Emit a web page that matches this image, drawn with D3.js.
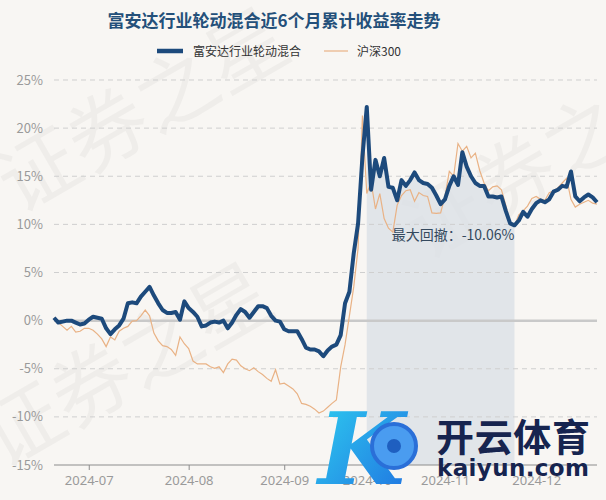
<!DOCTYPE html>
<html>
<head>
<meta charset="utf-8">
<script src="https://cdn.jsdelivr.net/npm/d3@7"></script>
<style>
  body { margin: 0; background: #f8f6f3; }
  svg { display: block; font-family: "Noto Sans CJK SC", "Noto Sans", sans-serif; }
</style>
</head>
<body>
<svg id="chart"></svg>
<script>
// cumulative return (%) per trading day, 2024-06-20 .. 2024-12-20
var fundName = '富安达行业轮动混合';
var benchName = '沪深300';
var fundValues = [
  0.3, -0.2, -0.1, 0, 0, -0.2, -0.4, -0.3, 0.1, 0.4,
  0.3, 0.2, -0.8, -1.4, -0.9, -0.5, 0.2, 1.8, 1.9, 1.8,
  2.5, 3.0, 3.5, 2.6, 1.8, 1.1, 0.8, 0.8, 0.9, 0.1,
  2.0, 1.3, 0.9, 0.4, -0.6, -0.5, -0.2, -0.1, -0.2, 0,
  -0.8, -0.2, 0.6, 1.2, 0.9, 0.3, 0.9, 1.5, 1.5, 1.3,
  0.5, 0.0, -0.1, -0.9, -1.1, -1.1, -1.1, -1.9, -2.8, -3.0,
  -3.0, -3.2, -3.7, -3.1, -2.7, -2.5, -1.5, 1.8, 3.0, 7.0,
  10.1, 17.0, 22.2, 13.6, 16.7, 15.0, 16.9, 13.9, 13.8, 12.5,
  14.6, 14.0, 14.6, 15.4, 14.6, 14.3, 14.2, 13.8, 13.0, 12.1,
  12.6, 14.0, 15.0, 14.1, 17.5, 16.0, 15.0, 14.3, 14.0, 14.0,
  12.9, 12.9, 12.8, 12.9, 11.4, 10.1, 9.9, 10.4, 11.3, 10.8,
  11.6, 12.2, 12.5, 12.3, 12.6, 13.4, 13.6, 14.0, 13.9, 15.5,
  12.9, 12.4, 12.8, 13.1, 12.8, 12.3
];
var benchValues = [
  0.3, -0.2, -0.6, -1.0, -0.6, -1.2, -1.1, -0.8, -0.8, -1.0,
  -1.4, -1.9, -2.7, -1.7, -2.0, -1.1, -0.8, -0.6, -0.05, 0,
  0.5, 1.1, 0.5, -1.3, -2.1, -2.6, -2.7, -3.0, -3.6, -1.7,
  -2.4, -2.9, -4.2, -4.5, -4.5, -4.5, -4.8, -4.95, -4.8, -5.4,
  -4.5, -4.0, -4.1, -4.7, -5.0, -5.2, -4.9, -5.3, -5.6, -6.0,
  -6.3, -5.1, -6.6, -6.5, -6.8, -7.1, -7.6, -8.6, -8.7, -8.9,
  -9.2, -9.6, -9.4, -9.0, -8.6, -8.25, -4.8, -2.5, 0.5, 3.5,
  7.5, 21.3, 13.2, 14.4, 11.6, 13.2, 10.6, 9.6, 9.2, 12.0,
  13.0, 13.5, 13.6, 12.4, 13.3, 13.0, 12.9, 11.2, 11.15, 11.2,
  12.9, 15.5, 15.0, 18.4, 17.6, 18.1, 16.9, 17.4, 15.6, 14.3,
  13.5, 13.9, 14.0, 13.6, 12.0, 10.1, 9.85, 11.0, 11.4, 11.9,
  12.7, 12.9, 12.6, 12.5, 13.3, 13.5, 13.8, 14.3, 14.8, 12.6,
  11.8, 12.1, 12.3, 12.5, 12.2, 12.1
];
var monthLabels = ['2024-07', '2024-08', '2024-09', '2024-10', '2024-11', '2024-12'];
var monthIndex = [8, 31, 53, 72, 90, 111];   // first trading day of each month
var yTicks = [25, 20, 15, 10, 5, 0, -5, -10, -15];
var drawdownLabel = '最大回撤：-10.06%';

var width = 606, height = 500;
var svg = d3.select('#chart').attr('width', width).attr('height', height);

var x = d3.scaleLinear().domain([0, fundValues.length - 1]).range([54, 597]);
var y = d3.scaleLinear().domain([-15, 25]).range([465, 80]);

// background
svg.append('rect').attr('width', width).attr('height', height).attr('fill', '#f8f6f3');

// watermark, clipped to the page
svg.append('clipPath').attr('id', 'page')
  .append('rect').attr('width', width).attr('height', height);
var wm = svg.append('g').attr('clip-path', 'url(#page)')
  .attr('fill', '#000').attr('fill-opacity', 0.035)
  .attr('font-size', 80);
[[18, 215], [2, 470], [425, 262]].forEach(function (p) {
  wm.append('text')
    .attr('transform', 'translate(' + p[0] + ',' + p[1] + ') rotate(-30)')
    .text('证券之星');
});

// peak -> trough drawdown area
var peakI = d3.maxIndex(fundValues);
var troughI = peakI + d3.minIndex(fundValues.slice(peakI));
var ddArea = d3.area()
  .x(function (d, i) { return x(peakI + i) })
  .y0(y(-15))
  .y1(function (d) { return y(d) });
svg.append('path')
  .datum(fundValues.slice(peakI, troughI + 1))
  .attr('d', ddArea)
  .attr('fill', '#d9dfe5')
  .attr('fill-opacity', 0.75);

// grid
var grid = svg.append('g');
grid.selectAll('line')
  .data(yTicks.filter(function (t) { return t !== 0 && t !== -15 }))
  .enter().append('line')
  .attr('x1', 54).attr('x2', 597)
  .attr('y1', function (d) { return y(d) })
  .attr('y2', function (d) { return y(d) })
  .attr('stroke', '#cfcfcf')
  .attr('stroke-dasharray', '5,4');
grid.append('line')
  .attr('x1', 54).attr('x2', 597)
  .attr('y1', y(0)).attr('y2', y(0))
  .attr('stroke', '#c9c9c9')
  .attr('stroke-width', 2.5);

// y labels
svg.append('g').selectAll('text')
  .data(yTicks)
  .enter().append('text')
  .attr('x', 43)
  .attr('y', function (d) { return y(d) + 4.5 })
  .attr('text-anchor', 'end')
  .attr('font-size', 13)
  .attr('fill', '#9a9a9a')
  .text(function (d) { return d + '%' });

// x axis
var xAxis = d3.axisBottom(x)
  .tickValues(monthIndex)
  .tickFormat(function (d, i) { return monthLabels[i] })
  .tickSize(5)
  .tickPadding(6);
var gx = svg.append('g').attr('transform', 'translate(0,' + y(-15) + ')').call(xAxis);
gx.select('.domain').attr('stroke', '#8c8c8c').attr('d', 'M54,0H597');
gx.selectAll('.tick line').attr('stroke', '#8c8c8c');
gx.selectAll('.tick text').attr('fill', '#9a9a9a').attr('font-size', 13)
  .attr('font-family', '"Noto Sans", sans-serif');

// lines
var line = d3.line()
  .x(function (d, i) { return x(i) })
  .y(function (d) { return y(d) });
svg.append('path').datum(benchValues).attr('d', line)
  .attr('fill', 'none').attr('stroke', '#e9b285').attr('stroke-width', 1.2);
svg.append('path').datum(fundValues).attr('d', line)
  .attr('fill', 'none').attr('stroke', '#1d4a7c').attr('stroke-width', 4)
  .attr('stroke-linejoin', 'round');

// drawdown label
svg.append('text')
  .attr('x', x(troughI)).attr('y', y(fundValues[troughI]) + 15)
  .attr('text-anchor', 'end')
  .attr('font-size', 14)
  .attr('fill', '#34495e')
  .text(drawdownLabel);

// title
svg.append('text')
  .attr('x', 274).attr('y', 27)
  .attr('text-anchor', 'middle')
  .attr('font-size', 17).attr('font-weight', 'bold')
  .attr('fill', '#24507a')
  .text('富安达行业轮动混合近6个月累计收益率走势');

// legend
var lg = svg.append('g').attr('font-size', 12).attr('fill', '#333');
lg.append('line').attr('x1', 157).attr('x2', 183).attr('y1', 51).attr('y2', 51)
  .attr('stroke', '#1d4a7c').attr('stroke-width', 4.5);
lg.append('text').attr('x', 193).attr('y', 55.5).text(fundName);
lg.append('line').attr('x1', 324).attr('x2', 348).attr('y1', 51).attr('y2', 51)
  .attr('stroke', '#e9b285').attr('stroke-width', 1.2);
lg.append('text').attr('x', 357).attr('y', 55.5).text(benchName);

// logo overlay
var logo = svg.append('g');
var grad = svg.append('defs').append('linearGradient').attr('id', 'kg')
  .attr('x1', 0).attr('y1', 0).attr('x2', 1).attr('y2', 1);
grad.append('stop').attr('offset', 0).attr('stop-color', '#2fd0f0');
grad.append('stop').attr('offset', 1).attr('stop-color', '#1f6fe0');
logo.append('text').attr('x', 318).attr('y', 484)
  .attr('font-size', 100).attr('font-style', 'italic').attr('font-weight', 'bold')
  .attr('font-family', '"DejaVu Serif", serif')
  .attr('fill', 'url(#kg)').text('K');
logo.append('circle').attr('cx', 394).attr('cy', 446).attr('r', 22)
  .attr('fill', '#4a9cf0').attr('stroke', '#2a6fd8').attr('stroke-width', 4);
logo.append('circle').attr('cx', 394).attr('cy', 446).attr('r', 7).attr('fill', '#1f5fc0');
logo.append('text').attr('x', 436).attr('y', 451)
  .attr('font-size', 38).attr('font-weight', 'bold')
  .attr('textLength', 154)
  .attr('fill', '#16244f').text('开云体育');
logo.append('text').attr('x', 437).attr('y', 476)
  .attr('font-size', 23).attr('font-weight', 'bold')
  .attr('font-family', '"DejaVu Sans", sans-serif')
  .attr('textLength', 152)
  .attr('fill', '#16244f').text('kaiyun.com');
</script>
</body>
</html>
